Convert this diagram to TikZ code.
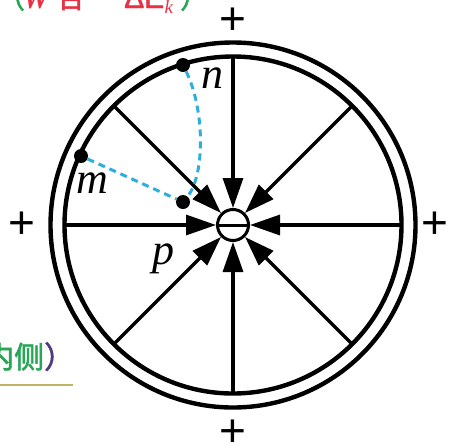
\documentclass[tikz,border=0pt]{standalone}
\usepackage{fontspec}
\setmainfont{Liberation Serif}
\newfontfamily\cjk[FakeBold=2]{Noto Sans CJK SC}
\newfontfamily\plusfont{Liberation Sans}
\newfontfamily\sansb[FakeBold=1.5]{Liberation Sans}
\usetikzlibrary{arrows.meta,calc}
\definecolor{dashblue}{RGB}{45,175,220}
\definecolor{txtred}{RGB}{230,50,70}
\definecolor{txtgreen}{RGB}{40,165,85}
\definecolor{parpurple}{RGB}{80,60,125}
\definecolor{ulcolor}{RGB}{190,180,100}
\tikzset{
  spoke/.style={line width=3.2pt,arrows={-Triangle[length=30pt,width=20pt]}},
  ring/.style={line width=4.4pt},
  dotnode/.style={circle,fill=black,inner sep=0pt,minimum size=14pt},
  dsh/.style={dashblue,line width=3pt,dash pattern=on 7pt off 5pt},
  lab/.style={inner sep=0pt,anchor=base,font=\itshape\fontsize{44}{44}\selectfont},
  plussign/.style={inner sep=0pt,font=\plusfont\fontsize{46}{46}\selectfont},
  toptxt/.style={inner sep=0pt,anchor=base,text=txtred}}
\begin{document}
\begin{tikzpicture}[x=1pt,y=-1pt]
\useasboundingbox (0,0) rectangle (450,445);
\clip (0,0) rectangle (450,445);
\coordinate (O) at (233,225);
% ring
\draw[ring] (O) circle[radius=182.5];
\draw[ring] (O) circle[radius=168.5];
% central charge
\node[circle,draw,line width=3pt,minimum size=31pt,inner sep=0pt] (c) at (O) {};
\draw[line width=3pt] (c.west) -- (c.east);
% spokes
\foreach \a in {0,45,...,315}{
  \coordinate (s\a) at ($(O)+(\a:168.5)$);
  \draw[spoke] (s\a) -- (c);
}
% dots and dashed paths
\node[dotnode] (n) at (183,65) {};
\node[dotnode] (m) at (81,156) {};
\node[dotnode] (p) at (183,202) {};
\draw[dsh] (m) -- (p);
\draw[dsh] (n) .. controls (205,110) and (205,175) .. (p);
% labels
\node[lab] (nl) at (212,88) {n};
\node[lab] (ml) at (92,193) {m};
\node[lab] (pl) at (163,264) {p};
% plus signs
\node[plussign] (pt) at (233,21) {+};
\node[plussign] (pb) at (233,433) {+};
\node[plussign] (plf) at (22,225) {+};
\node[plussign] (prt) at (435,225) {+};
% cut-off text at the top
\node[toptxt,text=txtgreen,font=\cjk\fontsize{28}{28}\selectfont] (t1) at (11,8) {（};
\node[toptxt,font=\bfseries\itshape\fontsize{30}{30}\selectfont] (t2) at (36,8) {W};
\node[toptxt,font=\cjk\fontsize{28}{28}\selectfont] (t3) at (71,8) {合};
\node[toptxt,font=\sansb\fontsize{28}{28}\selectfont] (t4) at (106,3) {=};
\node[toptxt,anchor=base west,font=\sansb\fontsize{30}{30}\selectfont] (t5) at (124,8) {ΔE};
\node[toptxt,anchor=base west,font=\itshape\fontsize{19}{19}\selectfont] (t6) at (t5.base east) [yshift=-5pt] {k};
\node[toptxt,anchor=base west,text=txtgreen,font=\cjk\fontsize{28}{28}\selectfont] (t7) at (180,8) {）};
% cut-off text at the lower left
\node[anchor=base west,inner sep=0pt,font=\cjk\fontsize{30}{30}\selectfont] (bltext) at (-16,368)
  {{\color{txtgreen}内侧}{\color{parpurple}）}};
\coordinate (u1) at (0,385);
\coordinate (u2) at (73,385);
\draw[ulcolor,line width=2.2pt] (u1) -- (u2);
\end{tikzpicture}
\end{document}
